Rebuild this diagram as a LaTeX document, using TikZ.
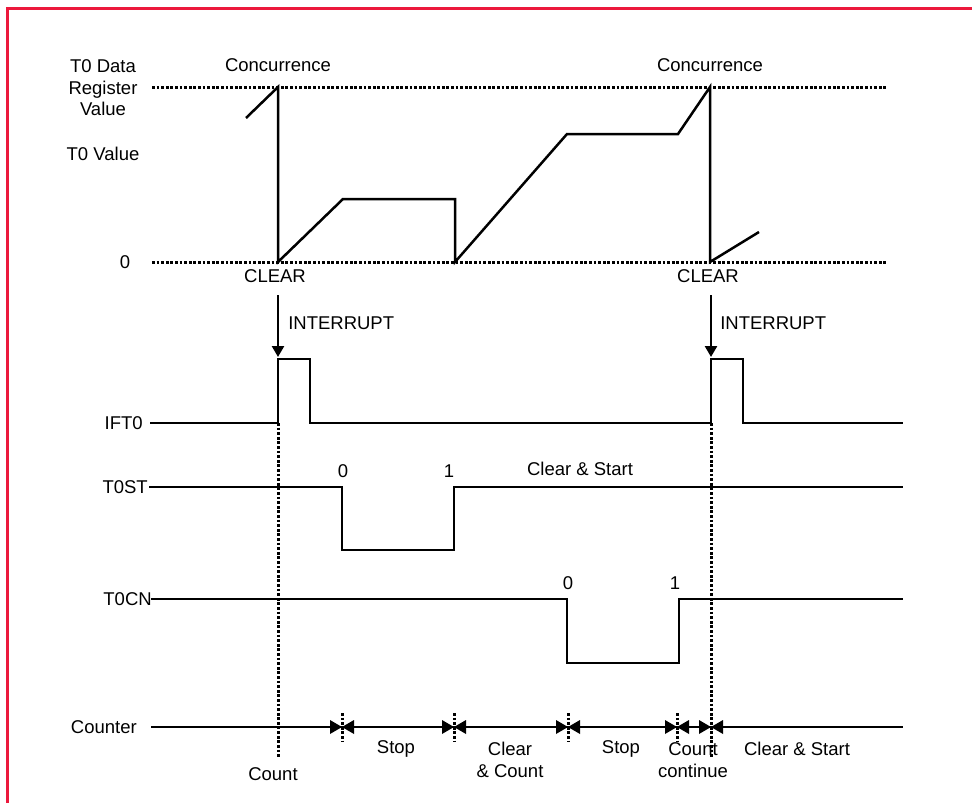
\documentclass[tikz,border=0pt]{standalone}
\usepackage{fontspec}
\setmainfont{Liberation Sans}
\usepackage{tikz}
\usetikzlibrary{arrows.meta}
\definecolor{framered}{RGB}{236,24,60}

\begin{document}
\begin{tikzpicture}[x=1pt, y=-1pt, line width=2.5pt,
    lbl/.style={inner sep=0pt, font=\fontsize{18.5}{21.5}\selectfont},
    dotline/.style={line width=3pt, dash pattern=on 2.8pt off 1.8pt},
    wave/.style={line width=2.5pt, line join=miter}]
  \useasboundingbox (0,0) rectangle (972,803);
  % frame
  \draw[framered, line width=3pt] (7,803) -- (7,8) -- (972,8);

  % Top: T0 value against data register value
  \draw[dotline] (152,87) -- (886,87);
  \draw[dotline] (152,262) -- (886,262);
  \node[lbl, align=center] (regval) at (103,88) {T0 Data\\Register\\Value};
  \node[lbl] (tzval) at (103,154) {T0 Value};
  \node[lbl] (zero) at (125,262) {0};
  \node[lbl] (conc1) at (278,65) {Concurrence};
  \node[lbl] (conc2) at (710,65) {Concurrence};
  \node[lbl] (clr1) at (275,276) {CLEAR};
  \node[lbl] (clr2) at (708,276) {CLEAR};
  \draw[wave] (246,118) -- (278,87) -- (278,262) -- (343,199) -- (455,199)
    -- (455,262) -- (567,134) -- (678,134) -- (710,87) -- (710,262) -- (759,232);

  % Interrupt arrows
  \draw[-{Triangle[width=12pt,length=11pt]}] (278,295) -- (278,357);
  \draw[-{Triangle[width=12pt,length=11pt]}] (711,295) -- (711,357);
  \node[lbl, anchor=west] (int1) at (287,323) {INTERRUPT};
  \node[lbl, anchor=west] (int2) at (719,323) {INTERRUPT};

  % IFT0
  \node[lbl, anchor=east] (ift) at (144,423) {IFT0};
  \draw[wave] (150,423) -- (278,423) -- (278,359) -- (310,359) -- (310,423)
    -- (711,423) -- (711,359) -- (743,359) -- (743,423) -- (903,423);

  % T0ST
  \node[lbl, anchor=east] (tst) at (149,487) {T0ST};
  \draw[wave] (149,487) -- (342,487) -- (342,550) -- (454,550) -- (454,487) -- (903,487);
  \node[lbl] (st0) at (343,471) {0};
  \node[lbl] (st1) at (449,471) {1};
  \node[lbl] (stcs) at (580,469) {Clear \& Start};

  % T0CN
  \node[lbl, anchor=east] (tcn) at (153,599) {T0CN};
  \draw[wave] (151,599) -- (567,599) -- (567,663) -- (679,663) -- (679,599) -- (903,599);
  \node[lbl] (cn0) at (568,583) {0};
  \node[lbl] (cn1) at (675,583) {1};

  % Counter
  \node[lbl, anchor=east] (cnt) at (138,727) {Counter};
  \draw[wave] (151,727) -- (903,727);
  \draw[dotline] (278,423) -- (278,757);
  \draw[dotline] (711,423) -- (711,757);
  \foreach \x in {342,454,568,677,711} {
    \draw[dotline] (\x,713) -- (\x,742);
    \fill (\x-12,720) -- (\x,727) -- (\x-12,734) -- cycle;
    \fill (\x+12,720) -- (\x,727) -- (\x+12,734) -- cycle;
  }
  \node[lbl] (ph1) at (273,774) {Count};
  \node[lbl] (ph2) at (396,749) {Stop};
  \node[lbl, align=center] (ph3) at (510,760) {Clear\\\& Count};
  \node[lbl] (ph4) at (621,749) {Stop};
  \node[lbl, align=center] (ph5) at (693,760) {Count\\continue};
  \node[lbl] (ph6) at (797,749) {Clear \& Start};
\end{tikzpicture}
\end{document}
